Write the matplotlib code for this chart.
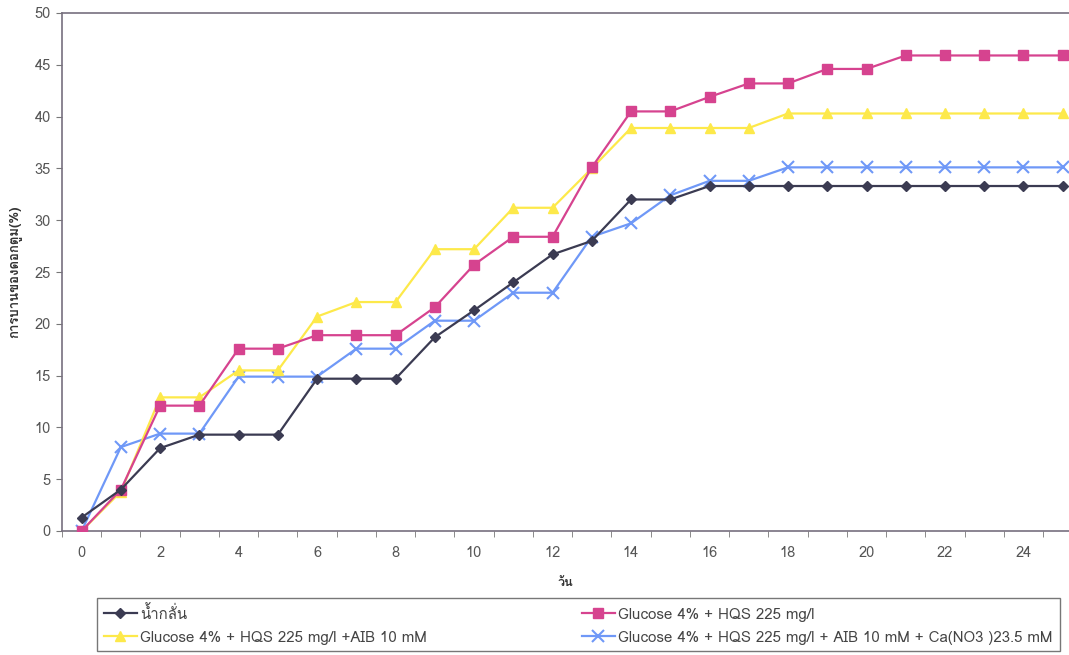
import matplotlib
matplotlib.use("Agg")
import matplotlib.pyplot as plt
from matplotlib import font_manager as fm
from matplotlib.ft2font import FT2Font
from matplotlib.ticker import MultipleLocator, FixedLocator

# ---------------- data ----------------
days = list(range(26))
water = [1.3, 4.0, 8.0, 9.3, 9.3, 9.3, 14.7, 14.7, 14.7, 18.7, 21.3, 24.0, 26.7,
         28.0, 32.0, 32.0, 33.3, 33.3, 33.3, 33.3, 33.3, 33.3, 33.3, 33.3, 33.3, 33.3]
glu_hqs = [0.0, 4.0, 12.1, 12.1, 17.6, 17.6, 18.9, 18.9, 18.9, 21.6, 25.7, 28.4, 28.4,
           35.1, 40.5, 40.5, 41.9, 43.2, 43.2, 44.6, 44.6, 45.9, 45.9, 45.9, 45.9, 45.9]
glu_hqs_aib = [0.0, 3.8, 12.9, 12.9, 15.5, 15.5, 20.7, 22.1, 22.1, 27.2, 27.2, 31.2, 31.2,
               35.0, 38.9, 38.9, 38.9, 38.9, 40.3, 40.3, 40.3, 40.3, 40.3, 40.3, 40.3, 40.3]
glu_hqs_aib_ca = [0.0, 8.1, 9.4, 9.4, 14.9, 14.9, 14.9, 17.6, 17.6, 20.3, 20.3, 23.0, 23.0,
                  28.4, 29.7, 32.4, 33.8, 33.8, 35.1, 35.1, 35.1, 35.1, 35.1, 35.1, 35.1, 35.1]
labels = ["น้ำกลั่น",
          "Glucose 4% + HQS 225 mg/l",
          "Glucose 4% + HQS 225 mg/l +AIB 10 mM",
          "Glucose 4% + HQS 225 mg/l + AIB 10 mM + Ca(NO3 )23.5 mM"]
xlabel = "วัน"
ylabel = "การบานของดอกตูม(%)"
xtick_labels = list(range(0, 26, 2))

# ---------------- fonts ----------------
thai_family = None
for f in fm.fontManager.ttflist:
    try:
        ft = FT2Font(f.fname)
        if 0x0E01 in ft.get_charmap():
            thai_family = f.name
            break
    except Exception:
        pass
fams = ([thai_family] if thai_family else []) + ["Liberation Sans", "DejaVu Sans"]
plt.rcParams["font.family"] = fams

fig = plt.figure(figsize=(10.69, 6.55), dpi=100)
ax = fig.add_axes([62/1069, 124/655, 1 - 62/1069, (531-13)/655])

ax.plot(days, water, color="#3b3b52", marker="D", markersize=5.5, lw=1.6, label=labels[0], zorder=5)
ax.plot(days, glu_hqs_aib, color="#fde94a", marker="^", markersize=7, lw=1.6, label=labels[2], zorder=3)
ax.plot(days, glu_hqs, color="#d6438f", marker="s", markersize=6.5, lw=1.6, label=labels[1], zorder=4)
ax.plot(days, glu_hqs_aib_ca, color="#6f98f7", marker="x", markersize=8, mew=1.5, lw=1.6, label=labels[3], zorder=2)

ax.set_xlim(-0.5, 25.16)
ax.set_ylim(0, 50)
ax.yaxis.set_major_locator(MultipleLocator(5))
ax.set_xticks(xtick_labels)
ax.set_xticklabels([str(v) for v in xtick_labels])
ax.xaxis.set_minor_locator(FixedLocator([k + 0.5 for k in range(-1, 26)]))
ax.tick_params(axis="x", which="major", length=0, pad=11, labelsize=10.5, labelcolor="#555555")
ax.tick_params(axis="x", which="minor", length=4, color="#777777", direction="out")
ax.tick_params(axis="y", which="major", length=4, color="#777777", direction="out",
               labelsize=10.5, labelcolor="#555555", pad=4)

for s in ["left", "bottom", "top"]:
    ax.spines[s].set_color("#77707f")
    ax.spines[s].set_linewidth(1.2)
ax.spines["right"].set_visible(False)

ax.set_xlabel(xlabel, fontsize=9, fontweight="bold", color="#333333", labelpad=12)
ax.set_ylabel(ylabel, fontsize=9.5, fontweight="bold", color="#333333", labelpad=10)

leg = fig.legend(loc="upper left", bbox_to_anchor=(97/1069, 1 - 598/655),
                 borderaxespad=0, ncol=2, fontsize=10.8, frameon=True, fancybox=False,
                 edgecolor="#555555", handlelength=2.2, handletextpad=0.25,
                 borderpad=0.45, labelspacing=0.6, columnspacing=10.3)
leg.get_frame().set_linewidth(1.0)
for t in leg.get_texts():
    t.set_color("#444444")

fig.savefig("out.png", dpi=100)
